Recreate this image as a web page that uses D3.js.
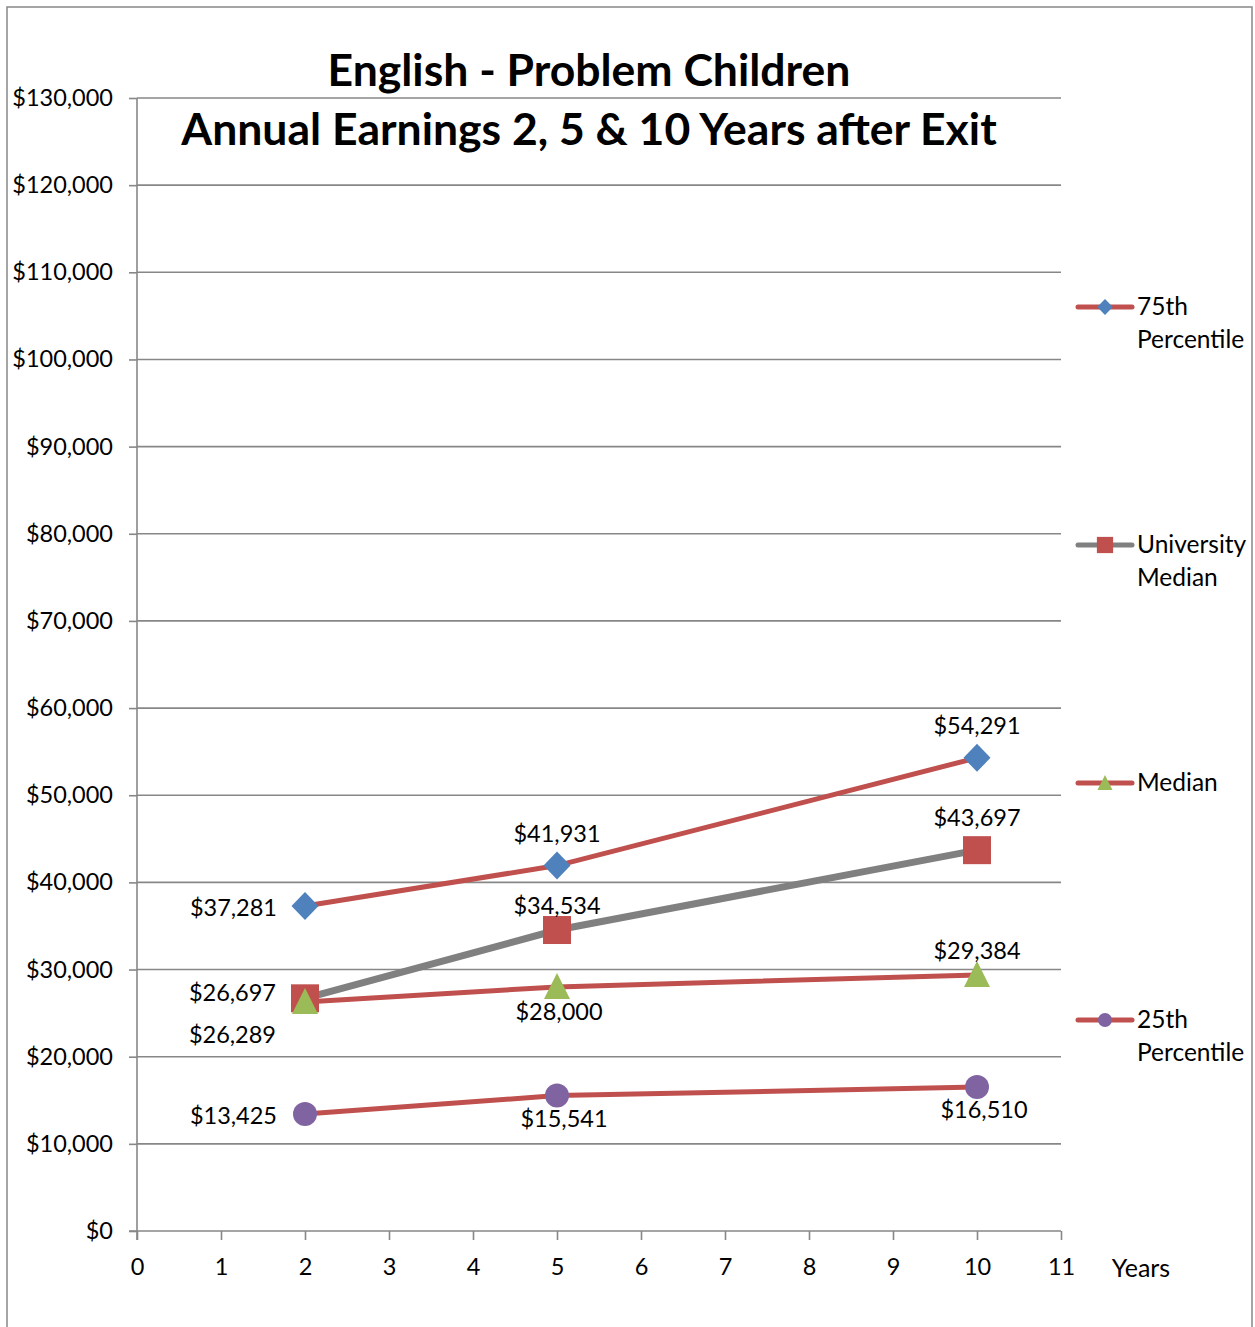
<!DOCTYPE html>
<html><head><meta charset="utf-8">
<script src="https://cdn.jsdelivr.net/npm/d3@7"></script>
<style>body{margin:0;background:#fff}svg{display:block}text{font-family:Lato,"Open Sans",sans-serif}</style>
</head><body><svg id="c" width="1255" height="1327"></svg>
<script>
const years = [2, 5, 10];
const seriesNames = ["75th Percentile", "University Median", "Median", "25th Percentile"];
const p75 = [37281, 41931, 54291];
const univMedian = [26697, 34534, 43697];
const median = [26289, 28000, 29384];
const p25 = [13425, 15541, 16510];
const yTicks = [0,10000,20000,30000,40000,50000,60000,70000,80000,90000,100000,110000,120000,130000];
const xTicks = [0,1,2,3,4,5,6,7,8,9,10,11];
const titleLines = ["English - Problem Children", "Annual Earnings 2, 5 & 10 Years after Exit"];
// label placement per point
const p75Pos = ["left","above","above"];
const univPos = ["leftUp","aboveNear","above"];
const medianPos = ["leftBelow","belowC","aboveNear"];
const p25Pos = ["left","below","below"];

const svg = d3.select("#c");
svg.append("rect").attr("x",7).attr("y",7).attr("width",1245).attr("height",1340).attr("fill","#fff").attr("stroke","#888").attr("stroke-width",1.5);

const x = d3.scaleLinear().domain([0,11]).range([137,1061]);
const y = d3.scaleLinear().domain([0,130000]).range([1231,98]);
const grid="#878787";
const fmt = d3.format("$,");
const LF=23.5;

// gridlines
svg.append("g").selectAll("line").data(yTicks.filter(d=>d>0)).join("line")
 .attr("x1",x(0)).attr("x2",x(11)).attr("y1",d=>y(d)).attr("y2",d=>y(d))
 .attr("stroke",grid).attr("stroke-width",1.6);

// y axis
const ya = svg.append("g").attr("transform",`translate(${x(0)},0)`)
 .call(d3.axisLeft(y).tickValues(yTicks).tickSize(8).tickPadding(16).tickFormat(fmt));
ya.select(".domain").attr("stroke",grid).attr("stroke-width",1.6).attr("d",`M0,${y(130000)}V${y(0)+9}`);
ya.selectAll(".tick line").attr("stroke",grid).attr("stroke-width",1.6);
ya.selectAll(".tick text").attr("font-size",LF).attr("fill","#000").attr("font-family","Lato");

// x axis
const xa = svg.append("g").attr("transform",`translate(0,${y(0)})`)
 .call(d3.axisBottom(x).tickValues(xTicks).tickSize(9).tickPadding(18).tickFormat(d3.format("d")));
xa.select(".domain").attr("stroke",grid).attr("stroke-width",1.6).attr("d",`M${x(0)-8},0H${x(11)}`);
xa.selectAll(".tick line").attr("stroke",grid).attr("stroke-width",1.6);
xa.selectAll(".tick text").attr("font-size",LF).attr("fill","#000").attr("font-family","Lato");
svg.append("text").attr("x",1141).attr("y",1277).attr("text-anchor","middle").attr("font-size",25).text("Years");

// title
svg.append("text").attr("x",589).attr("y",86).attr("text-anchor","middle").attr("font-size",44.5).attr("font-weight","bold").text(titleLines[0]);
svg.append("text").attr("x",589).attr("y",145).attr("text-anchor","middle").attr("font-size",44.5).attr("font-weight","bold").text(titleLines[1]);

const RED="#C0504D",BLUE="#4F81BD",GREEN="#9BBB59",PURPLE="#8064A2",GRAY="#808080";
const series = [
 {name:seriesNames[0], vals:p75, line:RED, mark:BLUE, sym:"diamond", pos:p75Pos},
 {name:seriesNames[1], vals:univMedian, line:GRAY, mark:RED, sym:"square", pos:univPos},
 {name:seriesNames[2], vals:median, line:RED, mark:GREEN, sym:"triangle", pos:medianPos},
 {name:seriesNames[3], vals:p25, line:RED, mark:PURPLE, sym:"circle", pos:p25Pos},
];
function marker(g, sym, color){
  if(sym==="diamond") g.append("path").attr("d","M0,-14L13.5,0L0,14L-13.5,0Z").attr("fill",color);
  else if(sym==="square") g.append("rect").attr("x",-14).attr("y",-14).attr("width",28).attr("height",28).attr("fill",color);
  else if(sym==="triangle") g.append("path").attr("d","M0,-14L13,12L-13,12Z").attr("fill",color);
  else g.append("circle").attr("r",12).attr("fill",color);
}
const line = d3.line().x((d,i)=>x(years[i])).y(d=>y(d));
series.forEach(s=>{
  svg.append("path").attr("d",line(s.vals)).attr("fill","none").attr("stroke",s.line).attr("stroke-width",s.sym==="square"?7:5);
});
series.forEach(s=>{
  s.vals.forEach((v,i)=>{
    const g=svg.append("g").attr("transform",`translate(${x(years[i])},${y(v)})`);
    marker(g,s.sym,s.mark);
  });
});
// labels
series.forEach(s=>{
  s.vals.forEach((v,i)=>{
    const px=x(years[i]), py=y(v), p=s.pos[i];
    let tx=px, ty=py, anchor="middle";
    if(p==="left"){tx=px-28; ty=py+10; anchor="end";}
    else if(p==="leftUp"){tx=px-29; ty=py+3; anchor="end";}
    else if(p==="leftBelow"){tx=px-29; ty=py+41; anchor="end";}
    else if(p==="above"){ty=py-24;}
    else if(p==="aboveNear"){ty=py-16;}
    else if(p==="below"){tx=px+7; ty=py+31;}
    else if(p==="belowC"){tx=px+2; ty=py+33;}
    svg.append("text").attr("x",tx).attr("y",ty).attr("text-anchor",anchor).attr("font-size",LF).text(fmt(v));
  });
});
// legend
const legY=[307,545,783,1020];
series.forEach((s,i)=>{
  const g=svg.append("g").attr("transform",`translate(1105,${legY[i]})`);
  g.append("line").attr("x1",-27).attr("x2",27).attr("stroke",s.line).attr("stroke-width",5).attr("stroke-linecap","round");
  const m=g.append("g").attr("transform","scale(0.58)");
  marker(m,s.sym,s.mark);
  const words = s.name.split(" ");
  const t=g.append("text").attr("x",32).attr("y",8).attr("font-size",24.5);
  words.forEach((w,j)=>t.append("tspan").attr("x",32).attr("dy",j?33:0).text(w));
});
</script></body></html>
